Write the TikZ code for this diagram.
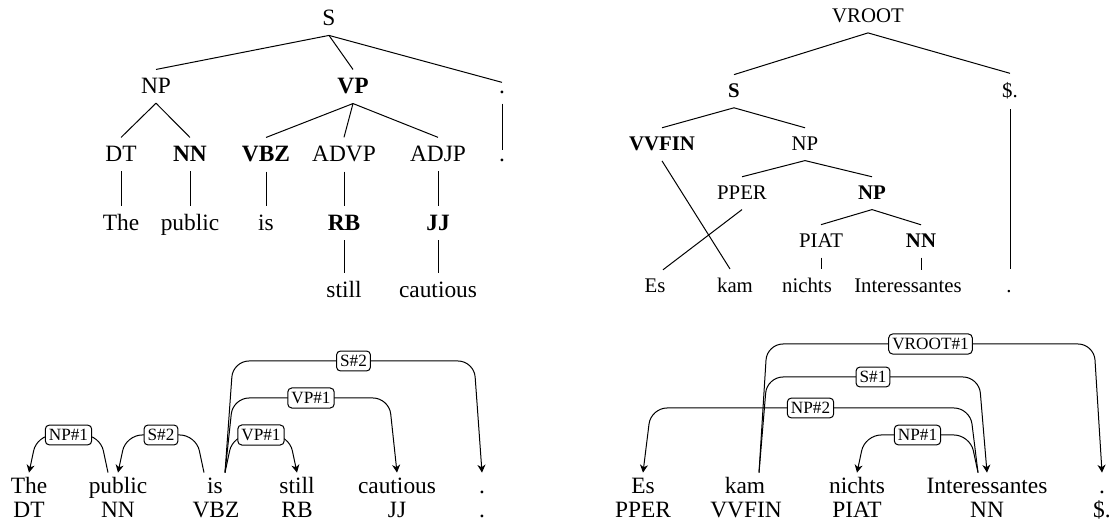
\documentclass[tikz,border=0pt]{standalone}
\usepackage{fontspec}
\setmainfont{Liberation Serif}
\usetikzlibrary{calc,arrows.meta}
\newcommand\deparc[6]{%
  \draw[dep] let \p1=([xshift=#2]#1.north), \p2=(#3.north) in
    (\p1) -- ({\x1+(#6)}, {-#4*0.5pt}) -- node[lab]{#5} ({\x2-(#6)}, {-#4*0.5pt}) -- (\p2);}
\begin{document}
\begin{tikzpicture}[x=0.5pt,y=-0.5pt,
  tl/.style={anchor=base, inner ysep=4.4pt, font=\fontsize{11.7}{14}\selectfont},
  tr/.style={anchor=base, inner ysep=4.6pt, font=\fontsize{10.4}{12}\selectfont},
  wd/.style={anchor=base, text height=8pt, inner ysep=2.5pt, font=\fontsize{11.7}{14}\selectfont},
  tg/.style={anchor=base, inner ysep=1pt, font=\fontsize{11.7}{14}\selectfont},
  br/.style={line width=0.5pt},
  dep/.style={-{Stealth[length=3.9pt,width=4pt,inset=1.2pt]}, rounded corners=8pt, line width=0.5pt},
  lab/.style={draw, fill=white, rounded corners=2pt, inner xsep=1.8pt, inner ysep=2.1pt,
    font=\fontsize{8.6}{10}\selectfont, line width=0.5pt}]
\useasboundingbox (0,0) rectangle (1112,522);

% ---------- top-left tree ----------
\node[tl] (lS) at (329,26) {S};
\node[tl] (lNP) at (156,94) {NP};
\node[tl] (lVP) at (353,94) {\textbf{VP}};
\node[tl] (lP1) at (502,94) {.};
\node[tl] (lDT) at (121,162) {DT};
\node[tl] (lNN) at (190,162) {\textbf{NN}};
\node[tl] (lVBZ) at (266,162) {\textbf{VBZ}};
\node[tl] (lADVP) at (344,162) {ADVP};
\node[tl] (lADJP) at (438,162) {ADJP};
\node[tl] (lP2) at (502,162) {.};
\node[tl] (lThe) at (121,231) {The};
\node[tl] (lpublic) at (190,231) {public};
\node[tl] (lis) at (266,231) {is};
\node[tl] (lRB) at (344,231) {\textbf{RB}};
\node[tl] (lJJ) at (438,231) {\textbf{JJ}};
\node[tl] (lstill) at (344,298) {still};
\node[tl] (lcautious) at (438,298) {cautious};

\draw[br] (lS.south) -- (lNP.north);
\draw[br] (lS.south) -- (lVP.north);
\draw[br] (lS.south) -- (lP1.north);
\draw[br] (lNP.south) -- (lDT.north);
\draw[br] (lNP.south) -- (lNN.north);
\draw[br] (lVP.south) -- (lVBZ.north);
\draw[br] (lVP.south) -- (lADVP.north);
\draw[br] (lVP.south) -- (lADJP.north);
\draw[br] (lP1.south) -- (lP2.north);
\draw[br] (lDT.south) -- (lThe.north);
\draw[br] (lNN.south) -- (lpublic.north);
\draw[br] (lVBZ.south) -- (lis.north);
\draw[br] (lADVP.south) -- (lRB.north);
\draw[br] (lADJP.south) -- (lJJ.north);
\draw[br] (lRB.south) -- (lstill.north);
\draw[br] (lJJ.south) -- (lcautious.north);

% ---------- top-right tree ----------
\node[tr] (rV) at (868,23) {VROOT};
\node[tr] (rS) at (734,98) {\textbf{S}};
\node[tr] (rD) at (1010,98) {\$.};
\node[tr] (rVV) at (662,151) {\textbf{VVFIN}};
\node[tr] (rNP) at (805,151) {NP};
\node[tr] (rPP) at (742,200) {PPER};
\node[tr] (rNPb) at (872,200) {\textbf{NP}};
\node[tr] (rPI) at (821,248) {PIAT};
\node[tr] (rNN) at (921,248) {\textbf{NN}};
\node[tr] (rEs) at (655,293) {Es};
\node[tr] (rkam) at (735,293) {kam};
\node[tr] (rni) at (807,293) {nichts};
\node[tr] (rIn) at (908,293) {Interessantes};
\node[tr] (rP) at (1009,293) {.};

\draw[br] (rV.south) -- (rS.north);
\draw[br] (rV.south) -- (rD.north);
\draw[br] (rS.south) -- (rVV.north);
\draw[br] (rS.south) -- (rNP.north);
\draw[br] (rNP.south) -- (rPP.north);
\draw[br] (rNP.south) -- (rNPb.north);
\draw[br] (rNPb.south) -- (rPI.north);
\draw[br] (rNPb.south) -- (rNN.north);
\draw[br] (rVV.south) -- ([xshift=-2.5pt]rkam.north);
\draw[br] (rPP.south) -- ([xshift=4pt]rEs.north);
\draw[br] (rPI.south) -- (rPI.south |- rni.north);
\draw[br] (rNN.south) -- (rNN.south |- rIn.north);
\draw[br] (rD.south) -- (rD.south |- rni.north);

% ---------- bottom-left dependency ----------
\node[wd] (bThe) at (29,494) {The};
\node[wd] (bpublic) at (118,494) {public};
\node[wd] (bis) at (215,494) {is};
\node[wd] (bstill) at (297,494) {still};
\node[wd] (bcautious) at (397,494) {cautious};
\node[wd] (bdot) at (482,494) {.};
\node[tg] (tDT) at (29,518) {DT};
\node[tg] (tNN) at (118,518) {NN};
\node[tg] (tVBZ) at (216,518) {VBZ};
\node[tg] (tRB) at (297,518) {RB};
\node[tg] (tJJ) at (397,518) {JJ};
\node[tg] (tdot) at (482,518) {.};

\deparc{bpublic}{-5pt}{bThe}{435}{NP\#1}{-4pt}
\deparc{bis}{-5.5pt}{bpublic}{435}{S\#2}{-4pt}
\deparc{bis}{5pt}{bstill}{435}{VP\#1}{4pt}
\deparc{bis}{5pt}{bcautious}{398}{VP\#1}{4pt}
\deparc{bis}{5pt}{bdot}{361}{S\#2}{4pt}

% ---------- bottom-right dependency ----------
\node[wd] (bEs) at (643,494) {Es};
\node[wd] (bkam) at (745,494) {kam};
\node[wd] (bnichts) at (857,494) {nichts};
\node[wd] (bInter) at (987,494) {Interessantes};
\node[wd] (bdotR) at (1102,494) {.};
\node[tg] (tPPER) at (643,518) {PPER};
\node[tg] (tVVFIN) at (746,518) {VVFIN};
\node[tg] (tPIAT) at (857,518) {PIAT};
\node[tg] (tNNR) at (987,518) {NN};
\node[tg] (tDol) at (1102,518) {\$.};

\deparc{bkam}{7pt}{bdotR}{344}{VROOT\#1}{4pt}
\deparc{bkam}{7pt}{bInter}{377}{S\#1}{4pt}
\deparc{bInter}{-4.5pt}{bEs}{408}{NP\#2}{-4pt}
\deparc{bInter}{-4.5pt}{bnichts}{435}{NP\#1}{-4pt}
\end{tikzpicture}
\end{document}
